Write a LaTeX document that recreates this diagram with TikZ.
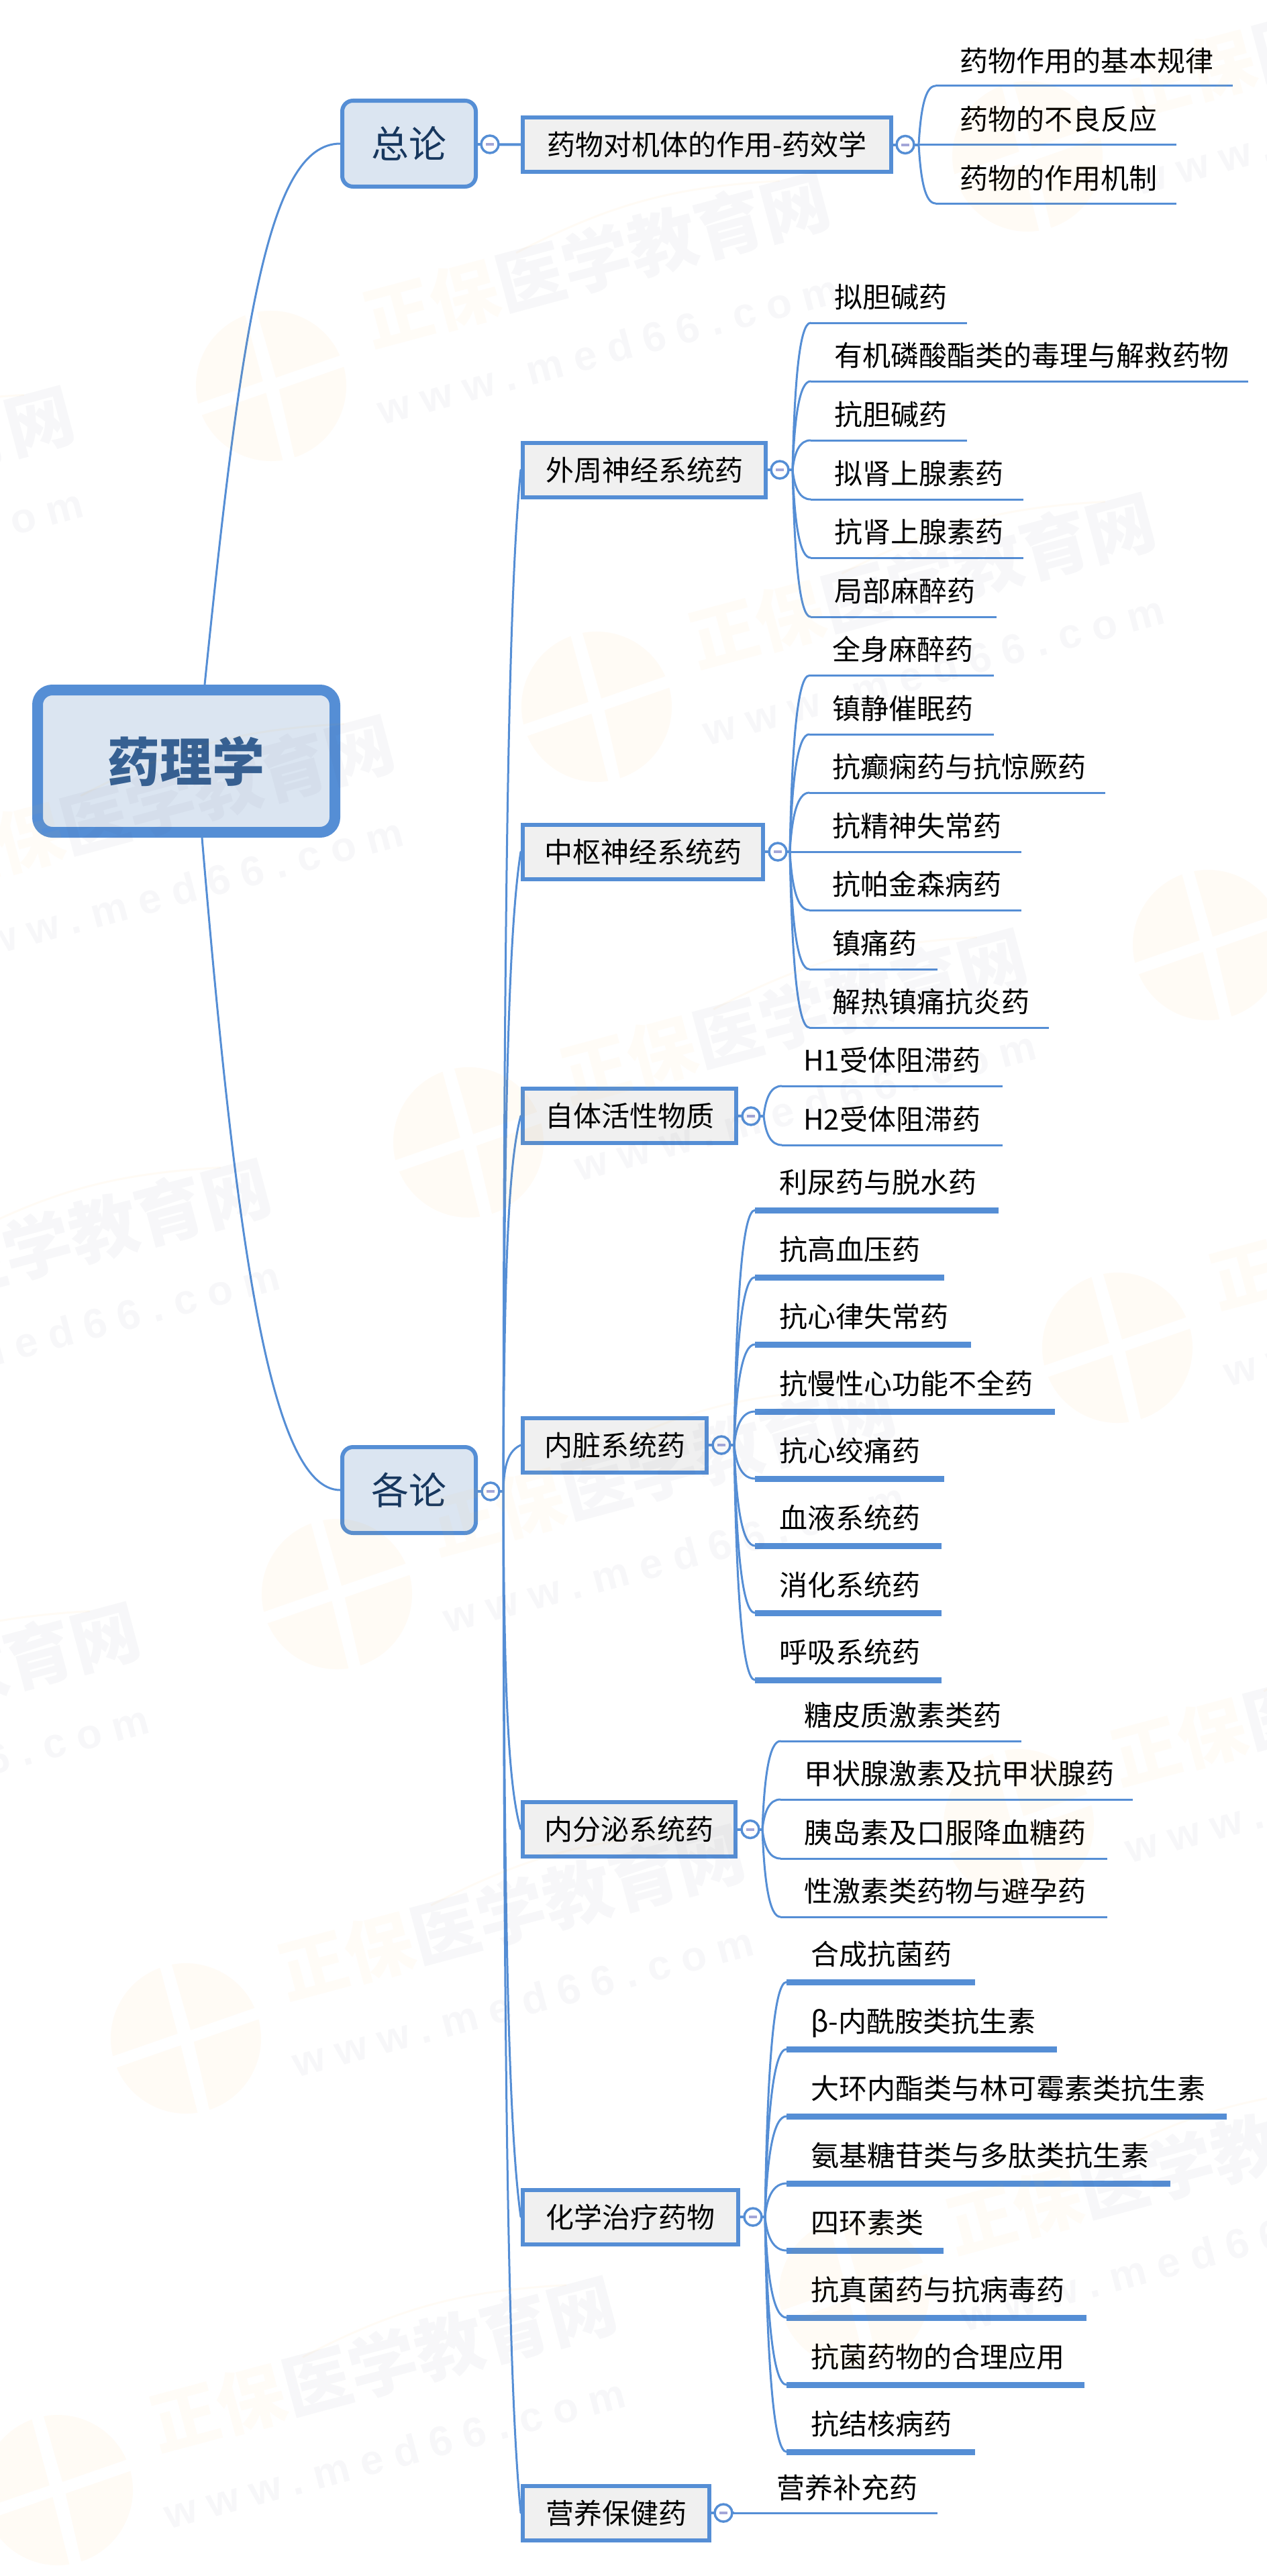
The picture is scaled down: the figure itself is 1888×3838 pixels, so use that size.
\documentclass[tikz,border=0pt]{standalone}
\usepackage{fontspec}
\setmainfont{Noto Sans CJK SC}
\newfontfamily\wmlatin[LetterSpace=28]{Liberation Sans}
\usetikzlibrary{calc}
\definecolor{mapblue}{HTML}{558ED5}
\definecolor{rootfill}{HTML}{DBE5F1}
\definecolor{midfill}{HTML}{F0F0F0}
\definecolor{roottext}{HTML}{366092}
\definecolor{navytext}{HTML}{17375E}
\definecolor{minuscol}{HTML}{A3A6D8}
\definecolor{wmorange}{HTML}{FFA000}
\definecolor{wmtitleorange}{HTML}{FFC050}
\definecolor{wmgrey}{HTML}{50587A}
\tikzset{
  link/.style={draw=mapblue,line width=1.5pt,line cap=round},
  stub/.style={draw=mapblue,line width=2pt},
  thinbar/.style={draw=mapblue,line width=1.5pt},
  thickbar/.style={draw=mapblue,line width=4.5pt},
  rootbox/.style={draw=mapblue,fill=rootfill,line width=8pt,rounded corners=11pt,inner sep=0pt,text=roottext,
    font=\fontsize{39}{39}\selectfont\bfseries,minimum width=221.5pt,minimum height=106pt},
  topicbox/.style={draw=mapblue,fill=rootfill,line width=3pt,rounded corners=8pt,inner sep=0pt,text=navytext,
    font=\fontsize{28}{28}\selectfont,minimum width=99.5pt,minimum height=64pt,text height=24.5pt,text depth=3.5pt},
  midbox/.style={draw=mapblue,fill=midfill,line width=3pt,inner sep=0pt,text=black,
    font=\fontsize{21}{21}\selectfont,minimum height=40.5pt,text height=18.5pt,text depth=2.5pt},
  leaftext/.style={inner sep=0pt,anchor=west,text=black,font=\fontsize{21}{21}\selectfont,text height=18.5pt,text depth=2.5pt},
  collapser/.style={circle,draw=mapblue,fill=white,line width=1.75pt,minimum size=13pt,inner sep=0pt},
  minusbar/.style={draw=minuscol,line width=2pt},
  wmtitle/.style={inner sep=0pt,anchor=west,transform shape,text opacity=.042,font=\fontsize{51}{51}\selectfont\bfseries},
  wmurl/.style={inner sep=0pt,anchor=west,transform shape,text=wmgrey,text opacity=.042,font=\fontsize{31}{31}\wmlatin\bfseries},
}
% box with given outer x-extent
\newcommand{\midnode}[5]{%
  \pgfmathsetmacro\mx{(#2+#3)/2}\pgfmathsetmacro\mw{(#3-#2-6)*.5}%
  \node[midbox,minimum width=\mw pt] (#1) at (\mx,#4) {#5};}
% collapse mark
\newcommand{\collapse}[3]{%
  \node[collapser] (#1) at (#2,#3) {};
  \draw[minusbar] ($(#1)+(-6,0)$) -- ($(#1)+(6,0)$);}
% fan origin
\newcommand{\fan}[4]{\coordinate (#1) at (#2,#3);\def\fanname{#1}\def\fanx{#2}\def\fany{#3}\def\leafrise{#4}}
% leaf: [bar style]{name}{text x}{line y}{line start}{line end}{text}
\newcommand{\leafnode}[7][thinbar]{%
  \pgfmathsetmacro\ly{#4-\leafrise}%
  \pgfmathsetmacro\cyy{0.62*(#4-\fany)}%
  \pgfmathsetmacro\cxx{-0.6*(#5-\fanx)}%
  \coordinate (#2s) at (#5,#4);\coordinate (#2e) at (#6,#4);
  \node[leaftext] (#2) at (#3,\ly) {#7};
  \draw[link] (\fanname) .. controls ($(\fanname)+(3,\cyy)$) and ($(#2s)+(\cxx,0)$) .. (#2s);
  \draw[#1] (#2s) -- (#2e);}
% branch from the trunk to a second-level box
\newcommand{\branch}[2]{%
  \pgfmathsetmacro\bd{#2-2222}\pgfmathsetmacro\ba{.6*\bd}\pgfmathsetmacro\bb{-.12*\bd}%
  \draw[link] (gl-f) .. controls ($(gl-f)+(1,\ba)$) and ($(#1.west)+(-18,\bb)$) .. (#1.west);}
% watermark
\newcommand{\watermark}[3]{%
  \begin{scope}[shift={(#2,#3)},rotate=15]
    \begin{scope}
      \clip (0,0) circle (112);
      \fill[wmorange,fill opacity=.04,even odd rule] (-120,-120) rectangle (120,120)
        (-10,-120) -- (8,-120) -- (10,-10) -- (120,-18) -- (120,0) -- (10,8) -- (6,120) -- (-12,120) -- (-10,8) -- (-120,16) -- (-120,-2) -- (-10,-10) -- cycle;
    \end{scope}
    \node[wmtitle] (wm#1a) at (160,-57) {\textcolor{wmtitleorange}{正保}\textcolor{wmgrey}{医学教育网}};
    \node[wmurl] (wm#1b) at (144,77) {www.med66.com};
    \draw[wmorange,opacity=.04,line width=1.5pt] (404,-97) to[bend left=12] (811,-99);
  \end{scope}}

\begin{document}
\begin{tikzpicture}[x=.5pt,y=-.5pt]
\useasboundingbox (0,0) rectangle (1888,3838);
\fill[white] (0,0) rectangle (1888,3838);

% ---- main nodes
\node[rootbox] (root) at (277.5,1134) {药理学};
\node[topicbox] (gen) at (609.5,214) {总论};
\node[topicbox] (gl) at (609.5,2220) {各论};

\midnode{pd}{776}{1331}{215.5}{药物对机体的作用-药效学}
\midnode{ps}{776}{1144}{700}{外周神经系统药}
\midnode{cn}{776}{1140}{1269}{中枢神经系统药}
\midnode{au}{776}{1100}{1662.5}{自体活性物质}
\midnode{vi}{776}{1056}{2153}{内脏系统药}
\midnode{en}{776}{1099}{2725.5}{内分泌系统药}
\midnode{ch}{776}{1103}{3303}{化学治疗药物}
\midnode{nu}{776}{1060}{3744}{营养保健药}

% ---- root links
\draw[link] (root.north -| 305,0) .. controls (360,480) and (400,214) .. (gen.west);
\draw[link] (root.south -| 301,0) .. controls (350,1830) and (400,2220) .. (gl.west);

% ---- trunk
\coordinate (gl-f) at (750,2222);
\branch{ps}{700}
\branch{cn}{1269}
\branch{au}{1662.5}
\branch{vi}{2153}
\branch{en}{2725.5}
\branch{ch}{3303}
\branch{nu}{3744}

% ---- stubs
\draw[stub] (gen.east |- 0,215) -- (pd.west);
\draw[stub] (gl.east |- 0,2222) -- (gl-f);
\coordinate (pd-f) at (1369,215.5);
\coordinate (ps-f) at (1181,700);
\coordinate (cn-f) at (1177,1269);
\coordinate (au-f) at (1138,1663);
\coordinate (vi-f) at (1094,2153);
\coordinate (en-f) at (1136,2725.5);
\coordinate (ch-f) at (1140,3303);
\coordinate (nu-f) at (1094,3744);
\draw[stub] (pd.east) -- (pd-f);
\draw[stub] (ps.east) -- (ps-f);
\draw[stub] (cn.east) -- (cn-f);
\draw[stub] (au.east) -- (au-f);
\draw[stub] (vi.east) -- (vi-f);
\draw[stub] (en.east) -- (en-f);
\draw[stub] (ch.east) -- (ch-f);
\draw[stub] (nu.east) -- (nu-f);

% ---- leaves
\fan{pd-f}{1369}{215.5}{38}
\leafnode{a1}{1430}{128}{1394}{1837}{药物作用的基本规律}
\leafnode{a2}{1430}{215.5}{1394}{1753}{药物的不良反应}
\leafnode{a3}{1430}{303}{1394}{1753}{药物的作用机制}

\fan{ps-f}{1181}{700}{39}
\leafnode{b1}{1243}{481}{1208}{1441}{拟胆碱药}
\leafnode{b2}{1243}{568}{1208}{1860}{有机磷酸酯类的毒理与解救药物}
\leafnode{b3}{1243}{656}{1208}{1441}{抗胆碱药}
\leafnode{b4}{1243}{744}{1208}{1525}{拟肾上腺素药}
\leafnode{b5}{1243}{831}{1208}{1525}{抗肾上腺素药}
\leafnode{b6}{1243}{919}{1208}{1485}{局部麻醉药}

\fan{cn-f}{1177}{1269}{39}
\leafnode{c1}{1240}{1006.5}{1206}{1481}{全身麻醉药}
\leafnode{c2}{1240}{1094}{1206}{1481}{镇静催眠药}
\leafnode{c3}{1240}{1181}{1206}{1647}{抗癫痫药与抗惊厥药}
\leafnode{c4}{1240}{1269}{1206}{1522}{抗精神失常药}
\leafnode{c5}{1240}{1356}{1206}{1522}{抗帕金森病药}
\leafnode{c6}{1240}{1444}{1206}{1397}{镇痛药}
\leafnode{c7}{1240}{1531}{1206}{1563}{解热镇痛抗炎药}

\fan{au-f}{1138}{1663}{39}
\leafnode{d1}{1197}{1618}{1165}{1494}{H1受体阻滞药}
\leafnode{d2}{1197}{1706}{1165}{1494}{H2受体阻滞药}

\fan{vi-f}{1094}{2153}{42}
\leafnode[thickbar]{e1}{1161}{1803}{1125}{1488}{利尿药与脱水药}
\leafnode[thickbar]{e2}{1161}{1903}{1125}{1407}{抗高血压药}
\leafnode[thickbar]{e3}{1161}{2003}{1125}{1447}{抗心律失常药}
\leafnode[thickbar]{e4}{1161}{2103}{1125}{1572}{抗慢性心功能不全药}
\leafnode[thickbar]{e5}{1161}{2203}{1125}{1407}{抗心绞痛药}
\leafnode[thickbar]{e6}{1161}{2303}{1125}{1403}{血液系统药}
\leafnode[thickbar]{e7}{1161}{2403}{1125}{1403}{消化系统药}
\leafnode[thickbar]{e8}{1161}{2503}{1125}{1403}{呼吸系统药}

\fan{en-f}{1136}{2725.5}{39}
\leafnode{f1}{1198}{2594}{1163}{1522}{糖皮质激素类药}
\leafnode{f2}{1198}{2681}{1163}{1688}{甲状腺激素及抗甲状腺药}
\leafnode{f3}{1198}{2769}{1163}{1650}{胰岛素及口服降血糖药}
\leafnode{f4}{1198}{2856}{1163}{1650}{性激素类药物与避孕药}

\fan{ch-f}{1140}{3303}{42}
\leafnode[thickbar]{g1}{1208}{2953}{1172}{1453}{合成抗菌药}
\leafnode[thickbar]{g2}{1208}{3053}{1172}{1575}{β-内酰胺类抗生素}
\leafnode[thickbar]{g3}{1208}{3153}{1172}{1828}{大环内酯类与林可霉素类抗生素}
\leafnode[thickbar]{g4}{1208}{3253}{1172}{1744}{氨基糖苷类与多肽类抗生素}
\leafnode[thickbar]{g5}{1208}{3353}{1172}{1406}{四环素类}
\leafnode[thickbar]{g6}{1208}{3453}{1172}{1619}{抗真菌药与抗病毒药}
\leafnode[thickbar]{g7}{1208}{3553}{1172}{1616}{抗菌药物的合理应用}
\leafnode[thickbar]{g8}{1208}{3653}{1172}{1453}{抗结核病药}

\fan{nu-f}{1094}{3744}{38}
\leafnode{h1}{1157}{3744}{1130}{1397}{营养补充药}

% ---- collapse marks
\collapse{m0}{730}{215}
\collapse{m1}{731}{2222}
\collapse{m2}{1349}{215.5}
\collapse{m3}{1162}{700}
\collapse{m4}{1159}{1269}
\collapse{m5}{1119}{1663}
\collapse{m6}{1075}{2153}
\collapse{m7}{1118}{2725.5}
\collapse{m8}{1122}{3303}
\collapse{m9}{1078}{3744}

% ---- watermark
\watermark{1}{404}{575}
\watermark{2}{889}{1053}
\watermark{3}{-722}{894}
\watermark{4}{-245}{1384}
\watermark{5}{1531}{233}
\watermark{6}{698}{1702}
\watermark{7}{1665}{2008}
\watermark{8}{502}{2375}
\watermark{9}{-429}{2045}
\watermark{10}{-624}{2706}
\watermark{11}{1518}{2718}
\watermark{12}{277}{3037}
\watermark{13}{1273}{3416}
\watermark{14}{86}{3710}
\watermark{15}{1800}{1408}
\end{tikzpicture}
\end{document}
